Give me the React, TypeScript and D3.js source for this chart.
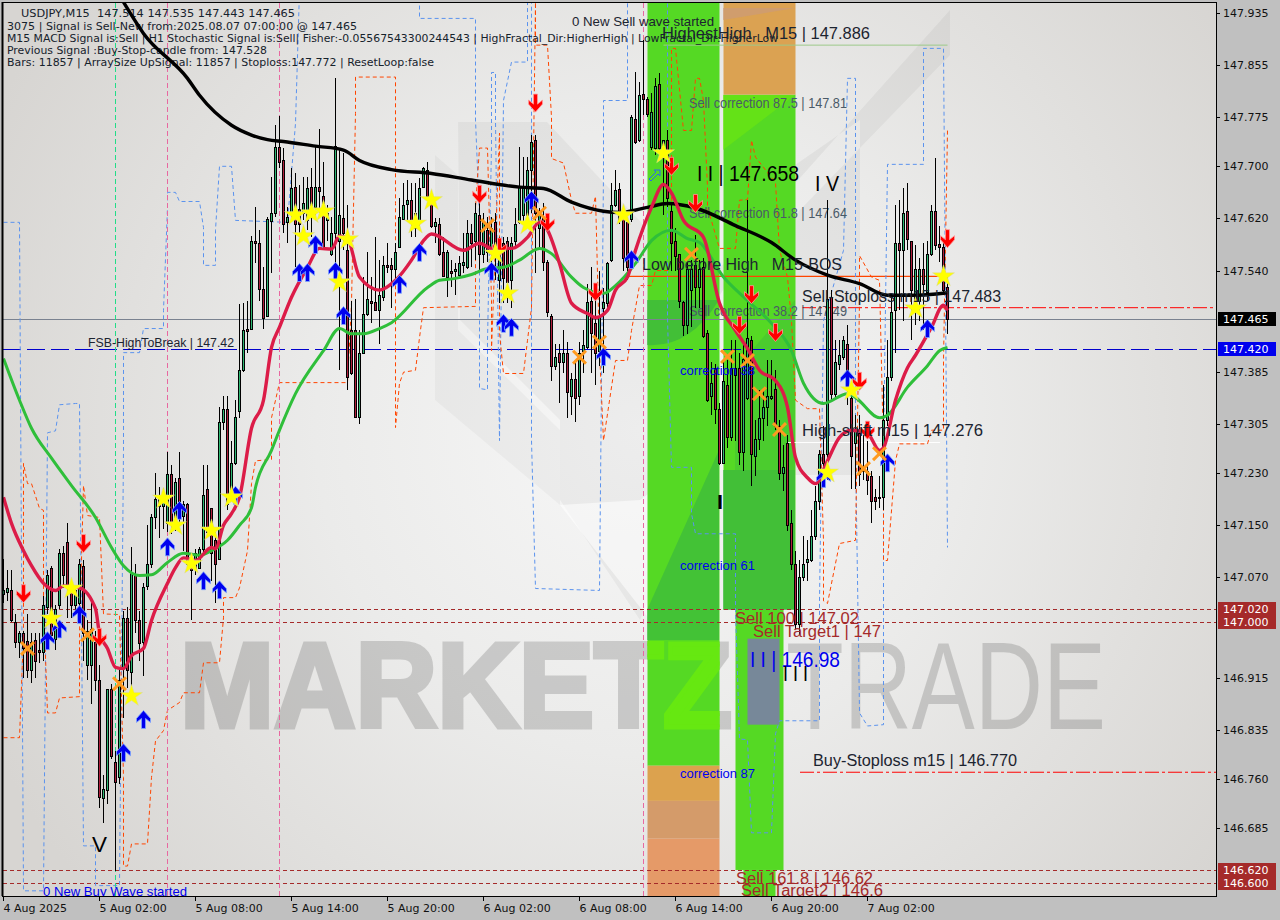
import * as d3 from 'd3';

const opens = [
  147.044,147.047,147.050,147.001,146.970,146.983,146.972,146.927,146.973,146.958,
  146.955,147.023,147.084,146.975,147.026,147.107,147.124,147.053,147.027,147.029,
  147.087,146.934,146.934,146.970,146.912,146.731,146.743,146.897,146.786,146.762,
  146.930,147.007,146.924,147.075,147.003,146.970,147.056,147.089,147.161,147.179,
  147.179,147.153,147.227,147.156,147.222,147.164,147.182,147.090,147.084,147.084,
  147.112,147.205,147.175,147.126,147.098,147.307,147.328,147.192,147.245,147.324,
  147.388,147.450,147.450,147.585,147.582,147.511,147.471,147.616,147.628,147.729,
  147.709,147.614,147.629,147.668,147.634,147.628,147.617,147.668,147.637,147.668,
  147.655,147.617,147.566,147.597,147.586,147.620,147.571,147.448,147.448,147.315,
  147.414,147.474,147.494,147.491,147.480,147.499,147.548,147.548,147.542,147.576,
  147.619,147.642,147.648,147.605,147.617,147.668,147.695,147.654,147.609,147.612,
  147.569,147.530,147.539,147.539,147.533,147.549,147.545,147.597,147.586,147.626,
  147.566,147.603,147.574,147.614,147.525,147.582,147.586,147.525,147.586,147.614,
  147.625,147.625,147.694,147.740,147.606,147.622,147.553,147.471,147.394,147.413,
  147.400,147.414,147.348,147.373,147.348,147.417,147.422,147.494,147.459,147.417,
  147.483,147.490,147.556,147.640,147.665,147.622,147.614,147.619,147.772,147.740,
  147.811,147.804,147.729,147.728,147.826,147.712,147.740,147.632,147.585,147.565,
  147.491,147.456,147.510,147.548,147.514,147.545,147.444,147.348,147.391,147.328,
  147.245,147.365,147.285,147.379,147.391,147.261,147.345,147.434,147.256,147.282,
  147.314,147.331,147.345,147.358,147.302,147.230,147.275,147.152,147.089,146.998,
  147.069,147.093,147.095,147.132,147.187,147.259,147.259,147.499,147.350,147.396,
  147.407,147.428,147.345,147.276,147.290,147.233,147.233,147.224,147.193,147.192,
  147.192,147.310,147.376,147.479,147.583,147.571,147.631,147.586,147.482,147.494,
  147.543,147.507,147.566,147.631,147.580,147.576,147.514,
];
const highs = [
  147.098,147.080,147.080,147.013,146.987,146.987,147.013,146.983,146.983,146.983,
  147.041,147.080,147.087,147.026,147.113,147.118,147.153,147.061,147.056,147.098,
  147.095,147.003,147.033,146.987,146.934,146.765,146.898,146.906,146.803,146.930,
  147.018,147.023,147.115,147.090,147.018,147.061,147.149,147.167,147.230,147.208,
  147.207,147.262,147.241,147.221,147.261,147.187,147.184,147.106,147.113,147.115,
  147.242,147.241,147.176,147.138,147.330,147.348,147.348,147.279,147.341,147.488,
  147.490,147.494,147.593,147.637,147.603,147.545,147.622,147.683,147.763,147.777,
  147.728,147.637,147.697,147.689,147.671,147.683,147.683,147.697,147.732,147.757,
  147.706,147.640,147.622,147.835,147.725,147.720,147.640,147.494,147.497,147.448,
  147.530,147.568,147.530,147.591,147.556,147.563,147.583,147.560,147.582,147.652,
  147.674,147.679,147.674,147.674,147.682,147.699,147.706,147.659,147.620,147.620,
  147.591,147.571,147.556,147.551,147.563,147.597,147.617,147.612,147.643,147.659,
  147.628,147.622,147.622,147.629,147.591,147.591,147.591,147.591,147.636,147.729,
  147.714,147.714,147.748,147.748,147.636,147.643,147.556,147.474,147.428,147.428,
  147.448,147.430,147.382,147.402,147.430,147.448,147.520,147.545,147.499,147.540,
  147.513,147.553,147.674,147.694,147.675,147.636,147.622,147.778,147.844,147.829,
  147.894,147.806,147.812,147.835,147.843,147.740,147.755,147.643,147.606,147.566,
  147.494,147.553,147.556,147.594,147.556,147.560,147.448,147.399,147.397,147.336,
  147.402,147.402,147.433,147.433,147.413,147.433,147.648,147.440,147.310,147.356,
  147.356,147.402,147.402,147.387,147.310,147.272,147.287,147.172,147.110,147.095,
  147.133,147.126,147.172,147.210,147.264,147.302,147.648,147.510,147.433,147.433,
  147.440,147.456,147.371,147.318,147.318,147.295,147.279,147.233,147.205,147.225,
  147.364,147.433,147.502,147.640,147.648,147.666,147.675,147.586,147.579,147.560,
  147.582,147.586,147.640,147.712,147.609,147.582,147.535,
];
const lows = [
  147.030,147.033,147.000,146.961,146.946,146.915,146.915,146.907,146.915,146.938,
  146.941,147.013,146.972,146.957,147.021,147.053,147.007,147.007,147.013,147.010,
  146.941,146.911,146.875,146.895,146.715,146.692,146.722,146.791,146.619,146.752,
  146.854,146.900,146.900,146.983,146.941,146.918,147.049,147.084,147.144,147.130,
  147.144,147.138,147.136,147.141,147.152,147.110,147.080,147.003,147.072,147.083,
  147.106,147.133,147.064,147.030,147.095,147.295,147.172,147.187,147.241,147.313,
  147.384,147.413,147.448,147.551,147.494,147.451,147.468,147.537,147.622,147.697,
  147.597,147.582,147.617,147.545,147.591,147.617,147.602,147.591,147.617,147.628,
  147.571,147.586,147.563,147.540,147.387,147.571,147.356,147.379,147.314,147.305,
  147.413,147.471,147.459,147.479,147.428,147.494,147.536,147.483,147.520,147.574,
  147.617,147.617,147.591,147.591,147.602,147.666,147.651,147.606,147.582,147.563,
  147.530,147.499,147.514,147.502,147.530,147.536,147.543,147.545,147.556,147.540,
  147.551,147.553,147.548,147.525,147.490,147.490,147.490,147.483,147.576,147.612,
  147.614,147.617,147.628,147.536,147.571,147.540,147.468,147.371,147.387,147.336,
  147.382,147.314,147.318,147.307,147.333,147.382,147.420,147.382,147.364,147.394,
  147.382,147.483,147.553,147.637,147.612,147.540,147.525,147.614,147.735,147.737,
  147.778,147.775,147.725,147.717,147.720,147.625,147.637,147.540,147.540,147.483,
  147.440,147.443,147.453,147.483,147.483,147.437,147.338,147.318,147.305,147.241,
  147.244,147.268,147.279,147.279,147.241,147.233,147.341,147.210,147.225,147.264,
  147.279,147.302,147.341,147.295,147.218,147.202,147.141,147.080,146.990,146.980,
  147.064,147.064,147.092,147.126,147.172,147.210,147.218,147.341,147.341,147.387,
  147.402,147.333,147.205,147.205,147.210,147.218,147.195,147.153,147.172,147.175,
  147.172,147.302,147.371,147.414,147.479,147.463,147.571,147.433,147.456,147.463,
  147.448,147.494,147.563,147.571,147.553,147.502,147.443,
];
const closes = [
  147.049,147.053,147.004,146.970,146.983,146.960,146.927,146.970,146.940,146.955,
  147.026,147.072,146.980,147.021,147.107,147.072,147.053,147.026,147.050,147.090,
  146.984,146.987,146.990,146.912,146.732,146.745,146.898,146.795,146.755,146.911,
  147.007,146.927,147.076,147.003,146.969,147.055,147.089,147.161,147.190,147.192,
  147.195,147.227,147.153,147.216,147.161,147.182,147.090,147.080,147.106,147.112,
  147.196,147.139,147.107,147.089,147.307,147.328,147.182,147.245,147.316,147.388,
  147.448,147.447,147.586,147.582,147.511,147.467,147.619,147.628,147.729,147.706,
  147.612,147.622,147.666,147.612,147.612,147.643,147.666,147.639,147.669,147.662,
  147.574,147.628,147.597,147.731,147.625,147.597,147.376,147.382,147.315,147.413,
  147.474,147.496,147.490,147.480,147.502,147.548,147.545,147.543,147.569,147.622,
  147.640,147.649,147.617,147.628,147.666,147.697,147.654,147.609,147.614,147.566,
  147.531,147.568,147.536,147.543,147.551,147.553,147.597,147.582,147.628,147.566,
  147.614,147.568,147.606,147.566,147.576,147.528,147.522,147.583,147.612,147.668,
  147.669,147.694,147.738,147.629,147.628,147.553,147.477,147.394,147.407,147.399,
  147.414,147.354,147.373,147.345,147.414,147.425,147.491,147.444,147.414,147.470,
  147.491,147.551,147.640,147.663,147.617,147.560,147.545,147.775,147.737,147.809,
  147.804,147.780,147.784,147.823,147.728,147.740,147.652,147.582,147.563,147.493,
  147.457,147.543,147.543,147.514,147.543,147.440,147.342,147.367,147.328,147.244,
  147.371,147.285,147.391,147.391,147.261,147.404,147.436,147.259,147.282,147.313,
  147.330,147.347,147.348,147.302,147.230,147.238,147.149,147.089,146.998,147.069,
  147.089,147.098,147.133,147.187,147.259,147.244,147.497,147.350,147.399,147.410,
  147.434,147.382,147.256,147.295,147.228,147.236,147.218,147.187,147.187,147.193,
  147.310,147.376,147.477,147.583,147.571,147.629,147.588,147.510,147.542,147.542,
  147.520,147.566,147.631,147.579,147.576,147.510,147.465,
];

// [bar, price]
const blackMa = [[30,147.952],[35,147.904],[46,147.835],[49,147.809],[57,147.763],[62,147.748],[66,147.741],[70,147.738],[78,147.731],[85,147.725],[89,147.709],[97,147.695],[107,147.689],[117,147.679],[129,147.668],[135,147.666],[142,147.645],[150,147.631],[154,147.629],[161,147.637],[166,147.643],[173,147.636],[183,147.609],[192,147.583],[198,147.556],[206,147.533],[214,147.520],[221,147.502],[227,147.502],[236,147.506]];
const redMa = [[0,147.192],[2,147.152],[5,147.110],[7,147.087],[10,147.060],[13,147.049],[15,147.056],[19,147.053],[23,147.021],[24,146.983],[26,146.960],[28,146.931],[30,146.929],[32,146.949],[35,146.960],[37,147.003],[41,147.060],[43,147.084],[45,147.099],[48,147.095],[52,147.115],[53,147.113],[55,147.149],[57,147.167],[59,147.192],[62,147.298],[65,147.341],[67,147.422],[69,147.453],[72,147.499],[76,147.545],[79,147.574],[82,147.573],[84,147.593],[86,147.589],[89,147.530],[94,147.510],[98,147.525],[102,147.556],[105,147.586],[107,147.596],[115,147.571],[119,147.582],[122,147.574],[127,147.574],[131,147.591],[134,147.614],[136,147.602],[139,147.551],[142,147.490],[146,147.474],[148,147.468],[151,147.479],[153,147.510],[156,147.530],[158,147.571],[162,147.637],[165,147.672],[167,147.659],[170,147.617],[175,147.591],[179,147.490],[183,147.448],[186,147.420],[189,147.387],[193,147.371],[196,147.330],[198,147.253],[201,147.222],[203,147.213],[206,147.248],[209,147.284],[212,147.295],[216,147.290],[219,147.264],[220,147.268],[223,147.341],[226,147.391],[228,147.410],[232,147.453],[235,147.487],[236,147.479]];
const greenMa = [[0,147.405],[4,147.341],[7,147.298],[12,147.252],[17,147.210],[23,147.161],[27,147.115],[30,147.087],[34,147.072],[37,147.073],[41,147.092],[45,147.106],[49,147.103],[52,147.110],[56,147.126],[59,147.149],[62,147.176],[63,147.207],[67,147.264],[69,147.295],[73,147.351],[80,147.417],[84,147.451],[87,147.443],[90,147.443],[94,147.451],[97,147.460],[106,147.514],[109,147.525],[113,147.528],[117,147.534],[121,147.543],[125,147.545],[129,147.556],[134,147.574],[137,147.566],[142,147.530],[145,147.514],[150,147.505],[153,147.517],[158,147.551],[162,147.586],[167,147.602],[171,147.589],[174,147.583],[180,147.530],[186,147.494],[192,147.459],[197,147.417],[200,147.367],[205,147.336],[211,147.351],[213,147.345],[219,147.314],[221,147.318],[226,147.361],[231,147.394],[234,147.417],[236,147.422]];
const blueBand = [[0,147.614],[4,147.614],[5,146.588],[10,146.588],[11,147.291],[13,147.294],[14,147.334],[18,147.336],[19,147.336],[20,146.657],[23,146.657],[23,146.596],[29,146.596],[30,147.264],[30,147.414],[34,147.414],[35,147.451],[40,147.451],[40,147.479],[41,147.637],[41,147.660],[43,147.660],[44,147.646],[49,147.646],[50,147.606],[50,147.548],[53,147.548],[53,147.602],[54,147.700],[57,147.700],[58,147.617],[71,147.614],[73,147.766],[74,147.970],[104,147.970],[104,147.927],[118,147.927],[118,147.771],[119,147.622],[119,147.359],[121,147.357],[121,147.433],[122,147.729],[122,147.844],[123,147.844],[123,147.771],[124,147.279],[125,147.801],[127,147.860],[131,147.860],[131,147.970],[132,147.970],[132,147.279],[133,147.052],[149,147.049],[150,147.689],[150,147.801],[156,147.801],[156,147.970],[166,147.970],[166,147.468],[167,147.238],[172,147.238],[172,147.167],[173,147.136],[183,147.136],[183,147.018],[184,146.821],[186,146.820],[187,146.677],[192,146.677],[193,146.829],[194,146.849],[204,146.849],[204,147.033],[205,147.463],[210,147.571],[211,147.835],[213,147.835],[213,147.268],[214,146.864],[214,146.861],[216,146.841],[220,146.843],[220,147.268],[221,147.703],[230,147.703],[230,147.881],[235,147.881],[236,147.115]];
const orangeBand = [[0,146.823],[4,146.823],[5,146.983],[5,147.244],[6,147.213],[7,147.213],[9,147.175],[10,147.172],[10,147.033],[11,146.861],[13,146.861],[14,146.884],[19,146.886],[19,146.983],[20,147.210],[21,147.164],[24,147.161],[25,147.013],[29,147.012],[30,146.762],[30,146.626],[31,146.626],[32,146.660],[36,146.660],[37,146.762],[38,146.818],[40,146.834],[41,146.865],[44,146.877],[45,146.892],[49,146.892],[50,146.938],[54,146.938],[55,147.007],[55,147.038],[58,147.038],[59,147.053],[61,147.110],[62,147.213],[63,147.248],[67,147.250],[67,147.314],[69,147.368],[86,147.368],[87,147.490],[88,147.781],[88,147.837],[98,147.837],[98,147.643],[98,147.299],[99,147.367],[100,147.384],[103,147.387],[104,147.437],[105,147.483],[118,147.485],[118,147.637],[119,147.728],[121,147.728],[122,147.494],[122,147.417],[124,147.751],[124,147.444],[125,147.382],[130,147.382],[131,147.433],[132,147.483],[133,147.952],[133,147.886],[136,147.886],[137,147.775],[137,147.712],[140,147.705],[142,147.648],[143,147.628],[147,147.628],[148,147.654],[149,147.417],[150,147.279],[153,147.402],[156,147.402],[157,147.448],[159,147.517],[162,147.517],[163,147.540],[167,147.540],[167,147.881],[168,147.881],[170,147.755],[172,147.755],[173,147.835],[174,147.835],[175,147.801],[176,147.668],[176,147.637],[179,147.574],[183,147.574],[184,147.648],[186,147.649],[187,147.740],[188,147.714],[193,147.675],[194,147.571],[196,147.530],[197,147.463],[198,147.341],[201,147.328],[204,147.328],[205,147.126],[205,147.033],[206,147.029],[209,147.121],[213,147.126],[214,147.494],[214,147.563],[217,147.530],[219,147.525],[220,147.264],[220,147.095],[221,147.095],[223,147.248],[224,147.274],[231,147.274],[232,147.295],[235,147.295],[235,147.402],[236,147.755]];

const stars = [[12,147.006],[17,147.052],[32,146.887],[40,147.190],[43,147.149],[47,147.090],[52,147.141],[57,147.192],[73,147.625],[77,147.628],[80,147.631],[75,147.593],[84,147.522],[86,147.588],[103,147.612],[107,147.648],[123,147.566],[126,147.505],[131,147.611],[155,147.625],[165,147.720],[206,147.230],[212,147.356],[228,147.482],[235,147.531]];
const crosses = [[6,146.960],[21,146.981],[29,146.906],[121,147.609],[134,147.628],[144,147.407],[149,147.430],[172,147.565],[181,147.408],[186,147.402],[189,147.351],[194,147.296],[215,147.236],[219,147.259]];
const upArrows = [[11,146.972],[14,146.990],[19,147.012],[30,146.800],[35,146.851],[41,147.116],[44,147.172],[50,147.064],[54,147.050],[58,147.195],[74,147.537],[76,147.537],[78,147.580],[83,147.539],[85,147.471],[99,147.519],[104,147.568],[122,147.539],[125,147.459],[127,147.453],[132,147.648],[150,147.408],[157,147.557],[205,147.221],[211,147.374],[221,147.245],[231,147.451]];
const downArrows = [[5,147.044],[20,147.121],[24,146.977],[119,147.657],[124,147.576],[133,147.797],[136,147.614],[148,147.507],[167,147.700],[173,147.643],[184,147.456],[187,147.503],[193,147.445],[214,147.370],[216,147.295],[236,147.589]];

// [bar from, bar to, top price, bottom price]
const greenZones = [[161,179,147.952,146.780],[180,198,147.81,147.02],[183,195,147.02,146.62],[185,193,146.62,146.58]];
const orangeZones = [[161,179,146.780,146.726,'#dca24e'],[161,179,146.726,146.668,'#d49b6a'],[161,179,146.668,146.579,'#e59a68'],[180,198,147.952,147.81,'#dba252']];
const slateZone = [186,194,146.975,146.843];

const pinkBars = [41,69,160];
const greenBars = [28];
const brownLevels = [147.02,147.0,146.62,146.6];
const priceTicks = [147.935,147.855,147.775,147.700,147.620,147.540,147.385,147.305,147.230,147.150,147.070,146.915,146.835,146.760,146.685];
const timeTickBars = [0,24,48,72,96,120,144,168,192,216];
const timeTickLabels = ['4 Aug 2025','5 Aug 02:00','5 Aug 08:00','5 Aug 14:00','5 Aug 20:00','6 Aug 02:00','6 Aug 08:00','6 Aug 14:00','6 Aug 20:00','7 Aug 02:00'];
const headerLines = [
  'USDJPY,M15  147.514 147.535 147.443 147.465',
  '3075 | Signal is Sell-New from:2025.08.07 07:00:00 @ 147.465',
  'M15 MACD Signal is:Sell | H1 Stochastic Signal is:Sell| Fisher:-0.05567543300244543 | HighFractal_Dir:HigherHigh | LowFractal_Dir:HigherLow',
  'Previous Signal :Buy-Stop-candle from: 147.528',
  'Bars: 11857 | ArraySize UpSignal: 11857 | Stoploss:147.772 | ResetLoop:false',
];

const x = d3.scaleLinear().domain([0, 236]).range([3.5, 947.5]);
const y = d3.scaleLinear().domain([147.935, 146.6]).range([13.2, 883]);
const fmt = d3.format('.3f');
const W = 1280, H = 920, R = 1216, B = 896;

const path = d3.line<number[]>().x((d) => x(d[0])).y((d) => y(d[1]));
const smooth = d3.line<number[]>().x((d) => x(d[0])).y((d) => y(d[1])).curve(d3.curveMonotoneX);
const starPath = d3.symbol().type(d3.symbolStar).size(150)()!;
const crossPath = d3.symbol().type(d3.symbolTimes).size(110)()!;
const upPath = 'M0,-9L7,-1L7,3L2,-1L2,9L-2,9L-2,-1L-7,3L-7,-1Z';
const downPath = 'M0,9L7,1L7,-3L2,1L2,-9L-2,-9L-2,1L-7,-3L-7,1Z';

const UI = 'DejaVu Sans, sans-serif';
const SANS = 'Liberation Sans, Arial, sans-serif';

const Label = ({ t, px, py, w, size = 16, color = '#1c2430', font = SANS, weight = 'normal' }: any) => (
  <text x={px} y={py} fontFamily={font} fontSize={size} fontWeight={weight} fill={color} textLength={w} lengthAdjust="spacingAndGlyphs" style={{ whiteSpace: 'pre' }}>
    {t}
  </text>
);

const AxisTag = ({ v, bg, color = '#fff' }: any) => (
  <g>
    <rect x={R + 2} y={Math.round(y(v)) - 7} width={58} height={14} fill={bg} />
    <text x={R + 7} y={Math.round(y(v)) + 4} fontFamily={UI} fontSize={11} fill={color}>{fmt(v)}</text>
  </g>
);

const Watermark = ({ fill, op = 1 }: any) => (
  <g fill={fill} opacity={op}>
    <text x={180} y={727} fontFamily={SANS} fontWeight="bold" fontSize={120} textLength={552} lengthAdjust="spacingAndGlyphs" stroke={fill} strokeWidth={5}>MARKETZ</text>
    <text x={786} y={729} fontFamily={SANS} fontSize={124} textLength={320} lengthAdjust="spacingAndGlyphs">TRADE</text>
  </g>
);

export default function App() {
  const rect = (z: any[]) => ({
    x: x(z[0]),
    y: y(z[2]),
    width: x(z[1]) - x(z[0]),
    height: y(z[3]) - y(z[2]),
  });
  return (
    <svg width={W} height={H} viewBox={`0 0 ${W} ${H}`} style={{ position: 'absolute', left: 0, top: 0, display: 'block', background: '#fff' }}>
      <defs>
        <radialGradient id="bg" gradientUnits="userSpaceOnUse" cx={640} cy={430} r={720}>
          <stop offset="0" stopColor="#f7f7f7" />
          <stop offset="0.45" stopColor="#ebebea" />
          <stop offset="1" stopColor="#d7d5d2" />
        </radialGradient>
        <clipPath id="plot"><rect x={3} y={3} width={R - 3} height={B - 3} /></clipPath>
        <clipPath id="zoneClip">
          <rect x={x(161)} y={638} width={x(179) - x(161)} height={127} />
          <rect {...rect(greenZones[2])} />
        </clipPath>
      </defs>
      <rect width={W} height={H} fill="#c0c0c0" />
      <rect x={3} y={3} width={R - 3} height={B - 3} fill="url(#bg)" />

      <g clipPath="url(#plot)">
        {/* logo behind the chart */}
        <polygon points="458,122 547,122 700,285 700,470 640,620 560,500 560,420 460,320" fill="#000" opacity={0.04} />
        <polygon points="435,155 458,175 458,330 560,430 560,505 435,400" fill="#000" opacity={0.03} />
        <polygon points="700,290 950,10 950,55 795,215 795,475 860,475 860,120 795,165 700,330" fill="#000" opacity={0.045} />
        <polygon points="560,505 650,620 680,600 680,470 640,500" fill="#fff" opacity={0.55} />
        <Watermark fill="#000" op={0.15} />

        {greenZones.map((z, i) => <rect key={i} {...rect(z)} fill="#55d924" />)}
        {orangeZones.map((z, i) => <rect key={i} {...rect(z)} fill={z[4] as string} />)}
        {/* darker shade in the zones */}
        <polygon points="647,640 647,610 719,450 719,640" fill="#35ae45" opacity={0.55} />
        <polygon points="723,610 723,470 795,470 795,610" fill="#35ae45" opacity={0.6} />
        <polygon points="735,370 735,470 795,470 795,300" fill="#35ae45" opacity={0.3} />
        <path d="M647,300L647,345Q690,348 719,300Z" fill="#35ae45" opacity={0.6} />
        <polygon points="723,150 795,95 723,95" fill="#6ee80f" opacity={0.6} />
        <polygon points="723,20 795,8 723,8" fill="#c89a80" opacity={0.6} />
        <g clipPath="url(#zoneClip)"><Watermark fill="#66e811" /></g>
        <rect {...rect(slateZone)} fill="#778899" />

        {brownLevels.map((v) => (
          <line key={v} x1={3} x2={R} y1={Math.round(y(v)) + 0.5} y2={Math.round(y(v)) + 0.5} stroke="#a52a2a" strokeDasharray="4 3" />
        ))}
        <line x1={3} x2={R} y1={Math.round(y(147.465)) + 0.5} y2={Math.round(y(147.465)) + 0.5} stroke="#7a8290" />
        <line x1={3} x2={R} y1={Math.round(y(147.42)) + 0.5} y2={Math.round(y(147.42)) + 0.5} stroke="#0000cd" strokeDasharray="18 6" />
        <line x1={x(156)} x2={x(236)} y1={y(147.531)} y2={y(147.531)} stroke="#ff4500" strokeWidth={1.2} />
        <line x1={802} x2={R} y1={y(147.483)} y2={y(147.483)} stroke="#ff0000" strokeDasharray="14 3 3 3" />
        <line x1={800} x2={R} y1={y(146.77)} y2={y(146.77)} stroke="#ff0000" strokeDasharray="14 3 3 3" />
        <line x1={787} x2={940} y1={y(147.276)} y2={y(147.276)} stroke="#fff" />
        <line x1={x(165)} x2={x(236)} y1={y(147.886)} y2={y(147.886)} stroke="#9cc98a" />

        <path d={path(blueBand as number[][])!} fill="none" stroke="#5b93ee" strokeDasharray="4 3" />
        <path d={path(orangeBand as number[][])!} fill="none" stroke="#ff4500" strokeDasharray="4 3" />
        {pinkBars.map((b) => <line key={b} x1={x(b)} x2={x(b)} y1={3} y2={B} stroke="#e868a0" strokeDasharray="5 3" />)}
        {greenBars.map((b) => <line key={b} x1={x(b)} x2={x(b)} y1={3} y2={B} stroke="#22dd88" strokeDasharray="5 3" />)}

        {headerLines.map((l, i) => (
          <text key={i} x={i === 0 ? 21 : 7} y={[17, 30, 42, 54, 66][i]} fontFamily={UI} fontSize={11} fill="#16222c"
            textLength={[274, 350, 771, 260, 427][i]} lengthAdjust="spacingAndGlyphs" style={{ whiteSpace: 'pre' }}>{l}</text>
        ))}
        <Label t="0 New Sell wave started" px={572} py={26} w={142} size={13} />
        <Label t="HighestHigh   M15 | 147.886" px={662} py={39} w={208} />
        <Label t="Sell correction 87.5 | 147.81" px={689} py={108} w={158} size={14} color="#4a5a68" />
        <Label t="Sell correction 61.8 | 147.64" px={689} py={218} w={158} size={14} color="#4a5a68" />
        <Label t="Sell correction 38.2 | 147.49" px={689} py={316} w={158} size={14} color="#4a5a68" />

        <g shapeRendering="crispEdges">
          {opens.map((o, i) => {
            const top = Math.round(y(Math.max(o, closes[i])));
            const bot = Math.round(y(Math.min(o, closes[i])));
            const cx = x(i);
            return (
              <g key={i}>
                <line x1={cx} x2={cx} y1={Math.round(y(highs[i]))} y2={Math.round(y(lows[i]))} stroke="#000" />
                <rect x={cx - 1} y={top + 0.5} width={2} height={Math.max(bot - top, 1)}
                  fill={closes[i] >= o ? '#2eb872' : '#b01e3c'} stroke="#000" />
              </g>
            );
          })}
        </g>

        <path d={smooth(greenMa as number[][])!} fill="none" stroke="#2fbf3a" strokeWidth={3} strokeLinejoin="round" />
        <path d={smooth(blackMa as number[][])!} fill="none" stroke="#000" strokeWidth={3.4} strokeLinejoin="round" />
        <path d={smooth(redMa as number[][])!} fill="none" stroke="#dc1c48" strokeWidth={3.4} strokeLinejoin="round" />

        {upArrows.map((d, i) => <path key={i} d={upPath} transform={`translate(${x(d[0])},${y(d[1])})`} fill="#0000ee" stroke="#7fa8ff" strokeWidth={0.8} />)}
        {downArrows.map((d, i) => <path key={i} d={downPath} transform={`translate(${x(d[0])},${y(d[1])})`} fill="#ff0000" stroke="#ff9a9a" strokeWidth={0.8} />)}
        {crosses.map((d, i) => <path key={i} d={crossPath} transform={`translate(${x(d[0])},${y(d[1])})`} fill="none" stroke="#ff9a1f" strokeWidth={3} />)}
        {stars.map((d, i) => <path key={i} d={starPath} transform={`translate(${x(d[0])},${y(d[1])})`} fill="#ffff00" stroke="#d8d8a0" strokeWidth={0.5} />)}
        <path d="M-5,3L2,-4L0,-6L6,-6L6,0L4,-2L-3,5Z" transform="translate(654,176)" fill="none" stroke="#2a6ae8" />

        <Label t="I I | 147.658" px={697} py={181} w={102} size={22} color="#000" />
        <Label t="I V" px={815} py={191} w={24} size={22} color="#000" />
        <Label t="Low before High   M15-BOS" px={642} py={270} w={200} />
        <Label t="Sell-Stoploss m15 | 147.483" px={802} py={302} w={199} />
        <Label t="FSB-HighToBreak | 147.42" px={88} py={347} w={146} size={12} />
        <Label t="correction 38" px={680} py={375} w={75} size={13} color="#0000ee" />
        <Label t="High-shift m15 | 147.276" px={802} py={436} w={181} />
        <Label t="I" px={717} py={509} w={6} size={20} color="#000" weight="bold" />
        <Label t="correction 61" px={680} py={570} w={75} size={13} color="#0000ee" />
        <Label t="Sell 100 | 147.02" px={735} py={624} w={124} color="#a52a2a" />
        <Label t="Sell Target1 | 147" px={753} py={637} w={128} color="#a52a2a" />
        <Label t="I I | 146.98" px={750} py={667} w={90} size={22} color="#0000ee" />
        <Label t="I I I" px={783} py={681} w={25} size={22} color="#000" />
        <Label t="Buy-Stoploss m15 | 146.770" px={813} py={766} w={204} />
        <Label t="correction 87" px={680} py={778} w={75} size={13} color="#0000ee" />
        <Label t="V" px={92} py={852} w={15} size={22} color="#000" />
        <Label t="Sell 161.8 | 146.62" px={736} py={884} w={137} color="#a52a2a" />
        <Label t="0 New Buy Wave started" px={43} py={896} w={144} size={13} color="#0000ee" />
        <Label t="Sell Target2 | 146.6" px={741} py={896} w={142} color="#a52a2a" />
      </g>

      {/* frame */}
      <rect x={2} y={2} width={R - 2} height={B - 2} fill="none" stroke="#000" strokeWidth={1} shapeRendering="crispEdges" />
      <line x1={2.5} x2={2.5} y1={2} y2={B} stroke="#000" strokeWidth={2} />

      {/* price axis */}
      {priceTicks.map((v) => (
        <g key={v}>
          <line x1={R} x2={R + 4} y1={Math.round(y(v)) + 0.5} y2={Math.round(y(v)) + 0.5} stroke="#000" />
          <text x={R + 7} y={Math.round(y(v)) + 4} fontFamily={UI} fontSize={11} fill="#101010">{fmt(v)}</text>
        </g>
      ))}
      {brownLevels.map((v) => <AxisTag key={v} v={v} bg="#a52a2a" />)}
      <AxisTag v={147.465} bg="#000" />
      <AxisTag v={147.42} bg="#0000ee" />

      {/* time axis */}
      {timeTickBars.map((b, i) => (
        <g key={b}>
          <line x1={x(b)} x2={x(b)} y1={B} y2={B + 5} stroke="#000" />
          <text x={x(b)} y={912} fontFamily={UI} fontSize={11} fill="#101010">{timeTickLabels[i]}</text>
        </g>
      ))}
    </svg>
  );
}
